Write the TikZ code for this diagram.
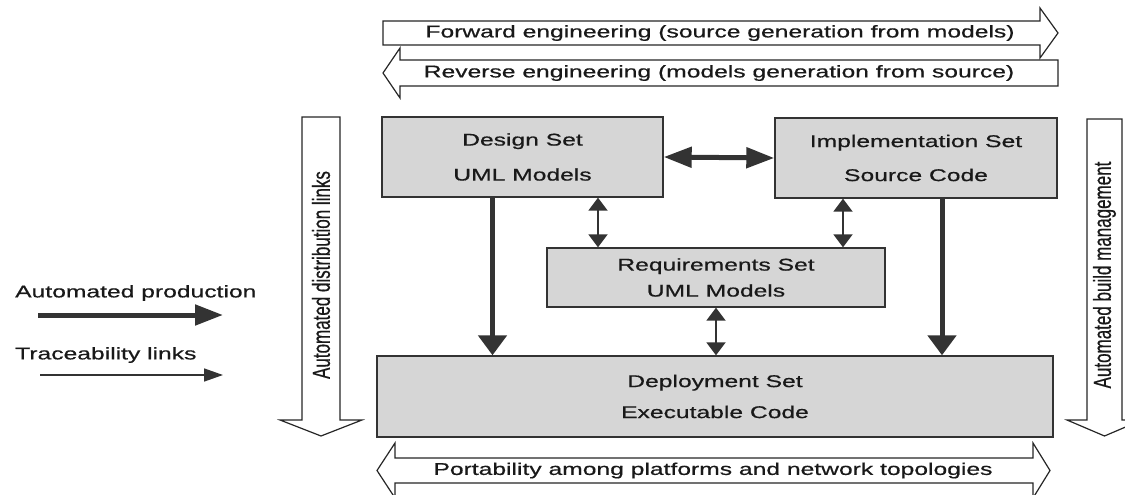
\documentclass[tikz,border=0pt]{standalone}
\usepackage{fontspec}
\setmainfont{Liberation Sans}[FakeStretch=1.45, FakeBold=0.6]
\newfontfamily\upfont{Liberation Sans}[FakeBold=0.6]
\usepackage{graphicx}
\usetikzlibrary{positioning, arrows.meta}

\begin{document}
\begin{tikzpicture}[
        x=1pt, y=-1pt,
        font=\fontsize{17}{20}\selectfont,
        % Styles
        set/.style={% For the artifact sets
            rectangle,
            draw=black!80,
            line width=1.4pt,
            fill=black!16,
            text=black!90,
            align=center,
            inner sep=0pt,
            },
        band/.style={% For the wide outline arrows
            draw=black!85,
            line width=1.2pt,
            fill=white,
            },
        bandtext/.style={% Text on the outline arrows
            text=black!90,
            inner sep=0pt,
            },
        uptext/.style={% Text on the upright outline arrows
            text=black!90,
            inner sep=0pt,
            rotate=90,
            font=\upfont\fontsize{17}{20}\selectfont,
            },
        legend/.style={% Legend texts
            text=black!90,
            inner sep=0pt,
            anchor=west,
            },
        prodH/.style={% Automated production, across
            line width=5pt,
            draw=black!80,
            -{Triangle[length=28pt, width=20pt]},
            },
        prodV/.style={% Automated production, down
            line width=5pt,
            draw=black!80,
            -{Triangle[length=20pt, width=28pt]},
            },
        traceH/.style={% Traceability links, across
            line width=1.6pt,
            draw=black!80,
            -{Triangle[length=19pt, width=13pt]},
            },
        traceV/.style={% Traceability links, up and down
            line width=2pt,
            draw=black!80,
            {Triangle[length=13pt, width=19pt]}-{Triangle[length=13pt, width=19pt]},
            },
        ]
    \useasboundingbox (0,0) rectangle (1125,495);

    % Outline arrows
        % Forward and reverse engineering
        \draw [band] (383,21) -- (1040,21) -- (1040,8) -- (1058,33) -- (1040,58) -- (1040,45) -- (383,45) -- cycle;
        \draw [band] (1058,60) -- (400,60) -- (400,48) -- (383,73) -- (400,98) -- (400,86) -- (1058,86) -- cycle;
        \node [bandtext] (fwd) at (720,33) {Forward engineering (source generation from models)};
        \node [bandtext] (rev) at (719,73) {Reverse engineering (models generation from source)};

        % Distribution and build management
        \draw [band] (302,117) -- (340,117) -- (340,420) -- (362,420) -- (321,436) -- (280,420) -- (302,420) -- cycle;
        \draw [band] (1087,119) -- (1122,119) -- (1122,420) -- (1142,420) -- (1104.5,436) -- (1067,420) -- (1087,420) -- cycle;
        \node [uptext] (dist) at (321,275) {\scalebox{1}[1.45]{Automated distribution links}};
        \node [uptext] (build) at (1104.5,275) {\scalebox{1}[1.45]{Automated build management}};

        % Portability
        \draw [band] (395,458) -- (1033,458) -- (1033,443) -- (1050,470.5) -- (1033,498) -- (1033,483) -- (395,483) -- (395,498) -- (377,470.5) -- (395,443) -- cycle;
        \node [bandtext] (port) at (713,470.5) {Portability among platforms and network topologies};

    % Sets
        \node [set, minimum width=281pt, minimum height=80pt] (design) at (522.5,157) {Design Set\\[15pt]UML Models};
        \node [set, minimum width=282pt, minimum height=80pt] (impl) at (916,158) {Implementation Set\\[14pt]Source Code};
        \node [set, minimum width=338pt, minimum height=59pt] (req) at (716,277.5) {Requirements Set\\[6pt]UML Models};
        \node [set, minimum width=676pt, minimum height=81pt] (deploy) at (715,396.5) {Deployment Set\\[11pt]Executable Code};

    % Connections
        % Automated production
        \draw [prodV] ([xshift=-30pt]design.south) -- ([xshift=-30pt]design.south |- deploy.north);
        \draw [prodV] ([xshift=26pt]impl.south) -- ([xshift=26pt]impl.south |- deploy.north);
        \draw [prodH, {Triangle[length=28pt, width=20pt]}-{Triangle[length=28pt, width=20pt]}] (design.east) -- (impl.west);

        % Traceability
        \draw [traceV] ([xshift=-118pt]req.north) -- ([xshift=-118pt]req.north |- design.south);
        \draw [traceV] ([xshift=127pt]req.north) -- ([xshift=127pt]req.north |- impl.south);
        \draw [traceV] (req.south) -- (req.south |- deploy.north);

    % Legend
        \node [legend] (prodlabel) at (15,293) {Automated production};
        \node [legend] (tracelabel) at (15,355) {Traceability links};
        \coordinate (prodA) at (38,315);
        \coordinate (prodB) at (223,315);
        \coordinate (traceA) at (40,375);
        \coordinate (traceB) at (223,375);
        \draw [prodH] (prodA) -- (prodB);
        \draw [traceH] (traceA) -- (traceB);

\end{tikzpicture}
\end{document}
